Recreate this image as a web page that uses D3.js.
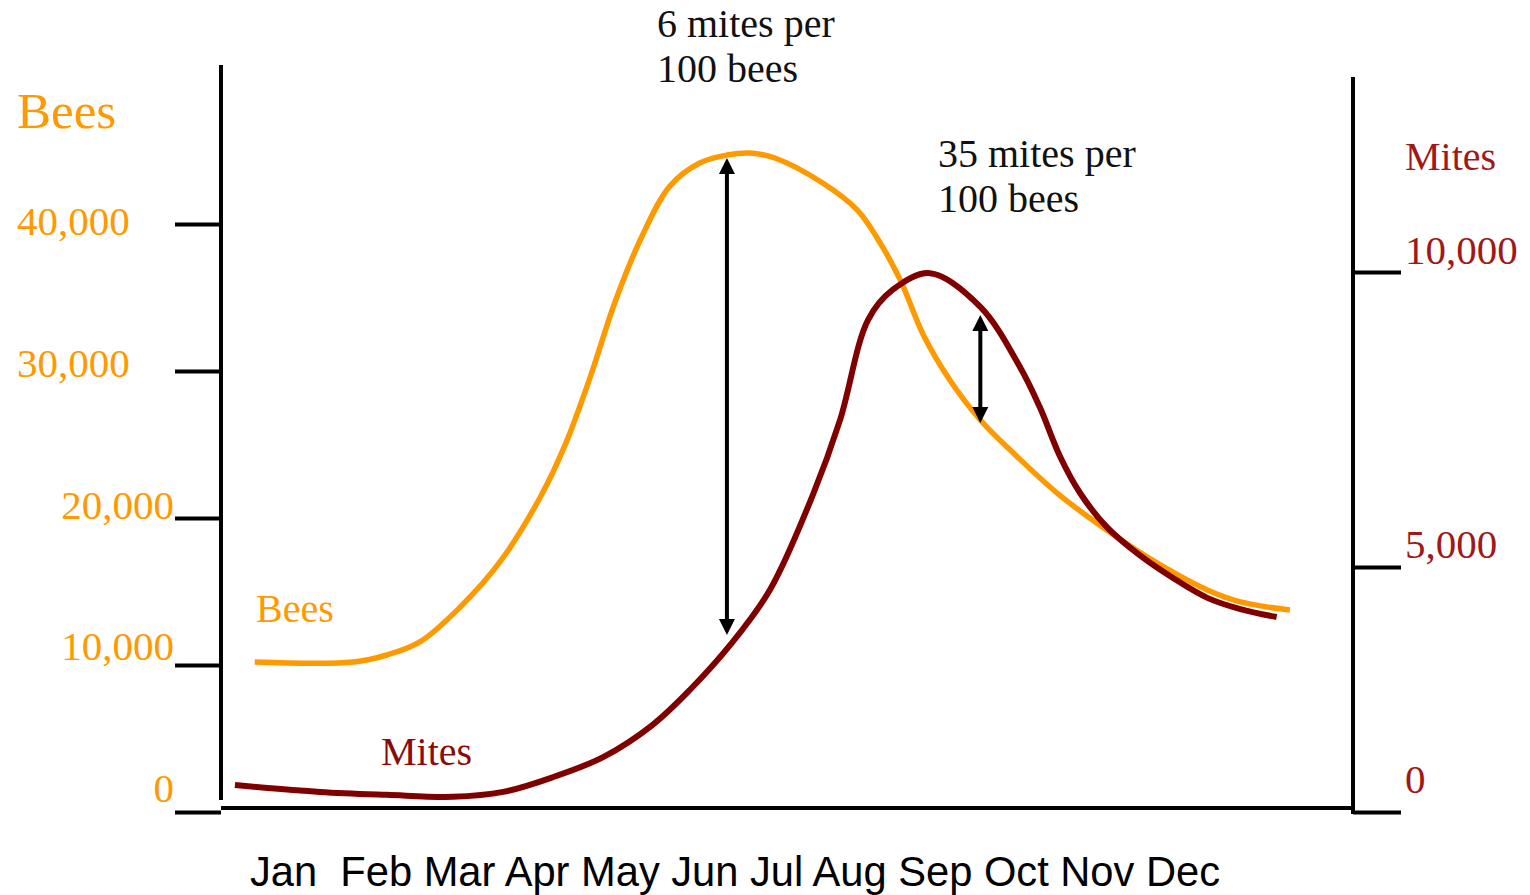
<!DOCTYPE html>
<html><head><meta charset="utf-8">
<script src="https://cdn.jsdelivr.net/npm/d3@7"></script>
<style>body{margin:0;background:#fff}</style>
</head><body>
<svg id="c" width="1530" height="895"></svg>
<script>
// ---- data ----
const months = ["Jan","Feb","Mar","Apr","May","Jun","Jul","Aug","Sep","Oct","Nov","Dec"];

const beeMonth = [-0.33,0.86,1.27,1.67,2.16,2.64,3.13,3.43,3.73,4.03,4.34,4.70,5.06,5.39,5.67,5.97,6.55,6.97,7.21,7.49,7.77,8.09,8.46,8.86,9.39,9.99,10.60,11.21,11.61,12.21];
const beeCount = [10200,10200,10680,11570,13950,17010,21430,24970,29520,34630,38910,42590,44150,44690,44830,44490,42790,40950,39050,36190,32450,29390,26670,24420,21700,19180,16940,15100,14290,13740];

const miteMonth = [-0.57,0.46,1.27,2.07,2.68,3.28,3.89,4.49,4.94,5.43,5.91,6.43,6.76,7.10,7.40,7.85,8.46,8.94,9.18,9.43,9.67,9.99,10.39,10.79,11.21,11.61,12.05];
const miteCount = [550,410,350,310,410,710,1120,1780,2490,3410,4530,6220,7490,9190,9700,9980,9410,8390,7710,6860,6250,5680,5200,4780,4370,4140,3980];

const beeTicks = [0,10000,20000,30000,40000];
const beeTickLabels = ["0","10,000","20,000","30,000","40,000"];
const miteTicks = [0,5000,10000];
const miteTickLabels = ["0","5,000","10,000"];

const annoTexts = [["6 mites per","100 bees"],["35 mites per","100 bees"]];
const arrowMonth = [5.39, 8.46];
const arrowTop = [44490, 33810];   // bee-scale values
const arrowBottom = [12040, 26460];

// ---- drawing ----
const svg = d3.select("#c");
const ORANGE = "#FF9900", MAROON = "#800000", RED = "#A01818";
const serif = "'Liberation Serif','Times New Roman',serif";
const sans = "'Liberation Sans',Arial,sans-serif";

const x = d3.scaleLinear().domain([0,11]).range([282,1190]);
const yB = d3.scaleLinear().domain([0,40000]).range([812,224]);
const yM = d3.scaleLinear().domain([0,5000,10000]).range([812,567,272]);
// hand-placed label baselines
const yBLab = d3.scaleLinear().domain([0,40000]).range([802,235]);
const yMLab = d3.scaleLinear().domain([0,5000,10000]).range([793,558,264]);

// left axis
const gL = svg.append("g").attr("transform","translate(221,0)")
  .call(d3.axisLeft(yB).tickValues(beeTicks).tickSize(46).tickSizeOuter(0).tickFormat(""));
gL.select(".domain").remove();
gL.selectAll(".tick line").attr("stroke","#000").attr("stroke-width",4);
svg.append("line").attr("x1",221).attr("x2",221).attr("y1",65).attr("y2",800)
  .attr("stroke","#000").attr("stroke-width",4);

// bottom line
svg.append("line").attr("x1",221).attr("x2",1353).attr("y1",808).attr("y2",808)
  .attr("stroke","#000").attr("stroke-width",4);

// right axis
const gR = svg.append("g").attr("transform","translate(1353,0)")
  .call(d3.axisRight(yM).tickValues(miteTicks).tickSize(48).tickSizeOuter(0).tickFormat(""));
gR.select(".domain").remove();
gR.selectAll(".tick line").attr("stroke","#000").attr("stroke-width",4);
svg.append("line").attr("x1",1353).attr("x2",1353).attr("y1",77).attr("y2",814)
  .attr("stroke","#000").attr("stroke-width",4);

// left tick labels
svg.selectAll(".bl").data(beeTicks).join("text")
  .attr("x", d => d >= 30000 ? 17 : 174)
  .attr("y", d => yBLab(d))
  .attr("text-anchor", d => d >= 30000 ? "start" : "end")
  .attr("font-family", serif).attr("font-size", 41).attr("fill", ORANGE)
  .text((d,i) => beeTickLabels[i]);

// right tick labels
svg.selectAll(".ml").data(miteTicks).join("text")
  .attr("x", 1405).attr("y", d => yMLab(d))
  .attr("font-family", serif).attr("font-size", 41).attr("fill", RED)
  .text((d,i) => miteTickLabels[i]);

// axis titles
svg.append("text").attr("x",17).attr("y",128).attr("font-family",serif)
  .attr("font-size",51).attr("fill",ORANGE).text("Bees");
svg.append("text").attr("x",1405).attr("y",170).attr("font-family",serif)
  .attr("font-size",40).attr("fill",RED).text("Mites");

// month labels (one run of text)
svg.append("text").attr("x",250).attr("y",886)
  .attr("font-family",sans).attr("font-size",42).attr("fill","#000")
  .attr("textLength",970).attr("lengthAdjust","spacingAndGlyphs")
  .text(months[0] + "\u00A0 " + months.slice(1).join(" "));

// curves
const line = d3.line().curve(d3.curveCatmullRom.alpha(0.5));
svg.append("path")
  .attr("d", line(beeMonth.map((m,i) => [x(m), yB(beeCount[i])])))
  .attr("fill","none").attr("stroke",ORANGE).attr("stroke-width",5.5)
  .attr("stroke-linecap","butt");
svg.append("path")
  .attr("d", line(miteMonth.map((m,i) => [x(m), yM(miteCount[i])])))
  .attr("fill","none").attr("stroke",MAROON).attr("stroke-width",6)
  .attr("stroke-linecap","butt");

// series labels
svg.append("text").attr("x",256).attr("y",622).attr("font-family",serif)
  .attr("font-size",40).attr("fill",ORANGE).text("Bees");
svg.append("text").attr("x",381).attr("y",765).attr("font-family",serif)
  .attr("font-size",40).attr("fill","#8B0A0A").text("Mites");

// arrows
arrowMonth.forEach((m,i) => {
  const ax = x(m), t = yB(arrowTop[i]), b = yB(arrowBottom[i]);
  const hw = 8, hl = 16;
  svg.append("line").attr("x1",ax).attr("x2",ax).attr("y1",t+hl-2).attr("y2",b-hl+2)
    .attr("stroke","#000").attr("stroke-width",4);
  svg.append("path").attr("d",`M${ax},${t} L${ax-hw},${t+hl} L${ax+hw},${t+hl} Z`).attr("fill","#000");
  svg.append("path").attr("d",`M${ax},${b} L${ax-hw},${b-hl} L${ax+hw},${b-hl} Z`).attr("fill","#000");
});

// annotation texts
const annoPos = [[657,37,82],[938,167,212]];
annoTexts.forEach((lines,i) => {
  lines.forEach((s,j) => {
    svg.append("text").attr("x",annoPos[i][0]).attr("y",annoPos[i][1+j])
      .attr("font-family",serif).attr("font-size",40).attr("fill","#111").text(s);
  });
});
</script>
</body></html>
